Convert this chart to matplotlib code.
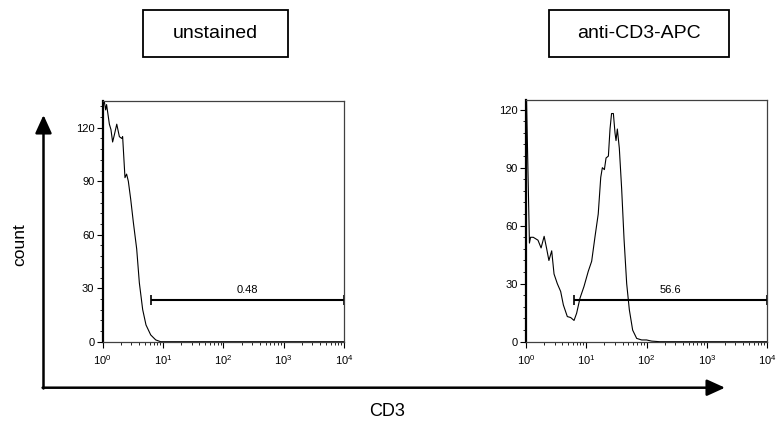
import matplotlib.pyplot as plt
import numpy as np
from matplotlib.ticker import LogLocator, MultipleLocator, NullFormatter

plt.rcParams['font.family'] = ['Liberation Sans', 'DejaVu Sans']
plt.rcParams['mathtext.default'] = 'regular'

# unstained histogram (CD3 intensity, count)
unstained_x = [1.0, 1.0, 1.06, 1.12, 1.16, 1.29, 1.37, 1.46, 1.56, 1.71, 1.89, 2.07, 2.14,
               2.34, 2.49, 2.66, 2.91, 3.22, 3.66, 4.05, 4.60, 5.22, 6.25, 7.57, 9.12, 10000]
unstained_y = [0, 135, 135, 130, 133, 122, 119, 112, 116, 122, 115, 114, 115,
               92, 94, 90, 80, 67, 52, 33, 18, 9.4, 3.8, 1, 0, 0]

# anti-CD3-APC histogram
stained_x = [1.0, 1.02, 1.14, 1.19, 1.32, 1.58, 1.78, 2.0, 2.19, 2.40, 2.67, 2.92, 3.31, 3.76,
             4.17, 4.85, 5.51, 6.27, 6.92, 7.87, 9.18, 10.8, 12.3, 14.0, 15.8, 17.4, 18.5,
             20.0, 21.3, 23.3, 24.8, 26.3, 28.2, 30.0, 31.2, 32.8, 35.4, 38.7, 42.4, 46.9,
             51.9, 58.9, 68.7, 83.2, 100, 122, 166, 10000]
stained_y = [0, 125, 51, 54, 54, 52.5, 48.5, 54.5, 48.5, 42, 47, 35, 30, 26,
             19, 13, 12.5, 11, 14.7, 22.5, 28.6, 36.4, 41.6, 54.5, 66, 85, 90,
             89, 95, 96, 110, 118, 118, 108, 104, 110, 100, 79, 53, 30,
             16.5, 6, 1.7, 0.9, 0.9, 0.3, 0, 0]

titles = ['unstained', 'anti-CD3-APC']
gate_start = [6.25, 6.2]
gate_y = [23.5, 21.7]
gate_labels = ['0.48', '56.6']
y_max = [135, 125]

fig = plt.figure(figsize=(7.81, 4.3), dpi=100)
W, H = 781, 430

def px_axes(left, top, right, bottom):
    return fig.add_axes([left / W, (H - bottom) / H, (right - left) / W, (bottom - top) / H])

axes = [px_axes(102.7, 101, 344, 341.7), px_axes(526, 100, 767, 341.7)]
data = [(unstained_x, unstained_y), (stained_x, stained_y)]

for i, ax in enumerate(axes):
    xs, ys = data[i]
    ax.plot(xs, ys, color='black', lw=0.8)
    ax.set_xscale('log')
    ax.set_xlim(1, 1e4)
    ax.set_ylim(0, y_max[i])
    ax.xaxis.set_major_locator(LogLocator(base=10, numticks=10))
    ax.xaxis.set_minor_locator(LogLocator(base=10, subs=np.arange(2, 10), numticks=20))
    ax.xaxis.set_minor_formatter(NullFormatter())
    ax.yaxis.set_major_locator(MultipleLocator(30))
    ax.yaxis.set_minor_locator(MultipleLocator(6))
    ax.tick_params(which='major', length=4, width=0.8, labelsize=8, pad=2)
    ax.tick_params(which='minor', length=2, width=0.6)
    ax.tick_params(axis='x', labelsize=8, pad=4)
    for s in ax.spines.values():
        s.set_linewidth(0.9)
        s.set_color('0.25')
    ax.spines['left'].set_linewidth(1.6)
    ax.spines['left'].set_color('black')

    # gate bar
    g0 = gate_start[i]
    gy = gate_y[i]
    cap = y_max[i] * 0.02
    ax.hlines(gy, g0, 1e4, color='black', lw=1.5, clip_on=False)
    ax.vlines([g0, 1e4], gy - cap, gy + cap, color='black', lw=1.2, clip_on=False)
    ax.text(np.sqrt(g0 * 1e4), gy + cap * 0.9, gate_labels[i], ha='center', va='bottom',
            fontsize=8)

# overlay in pixel coordinates for boxes, arrows and axis names
ov = fig.add_axes([0, 0, 1, 1])
ov.set_xlim(0, W)
ov.set_ylim(H, 0)
ov.axis('off')

box_x = [(142.7, 287.7), (549, 729)]
for (x0, x1), t in zip(box_x, titles):
    ov.add_patch(plt.Rectangle((x0, 10), x1 - x0, 46.7, fill=False, lw=1.3, ec='black'))
    ov.text((x0 + x1) / 2, 34, t, ha='center', va='center', fontsize=14)

ov.annotate('', xy=(43.5, 115), xytext=(43.5, 388.5),
            arrowprops=dict(arrowstyle='-|>,head_length=1.1,head_width=0.5', lw=1.8,
                            color='black', shrinkA=0, shrinkB=0))
ov.annotate('', xy=(725, 387.7), xytext=(42.6, 387.7),
            arrowprops=dict(arrowstyle='-|>,head_length=1.1,head_width=0.5', lw=1.8,
                            color='black', shrinkA=0, shrinkB=0))
ov.text(20, 245, 'count', rotation=90, ha='center', va='center', fontsize=12.5)
ov.text(387, 411, 'CD3', ha='center', va='center', fontsize=13)

fig.savefig('out.png', dpi=100)
